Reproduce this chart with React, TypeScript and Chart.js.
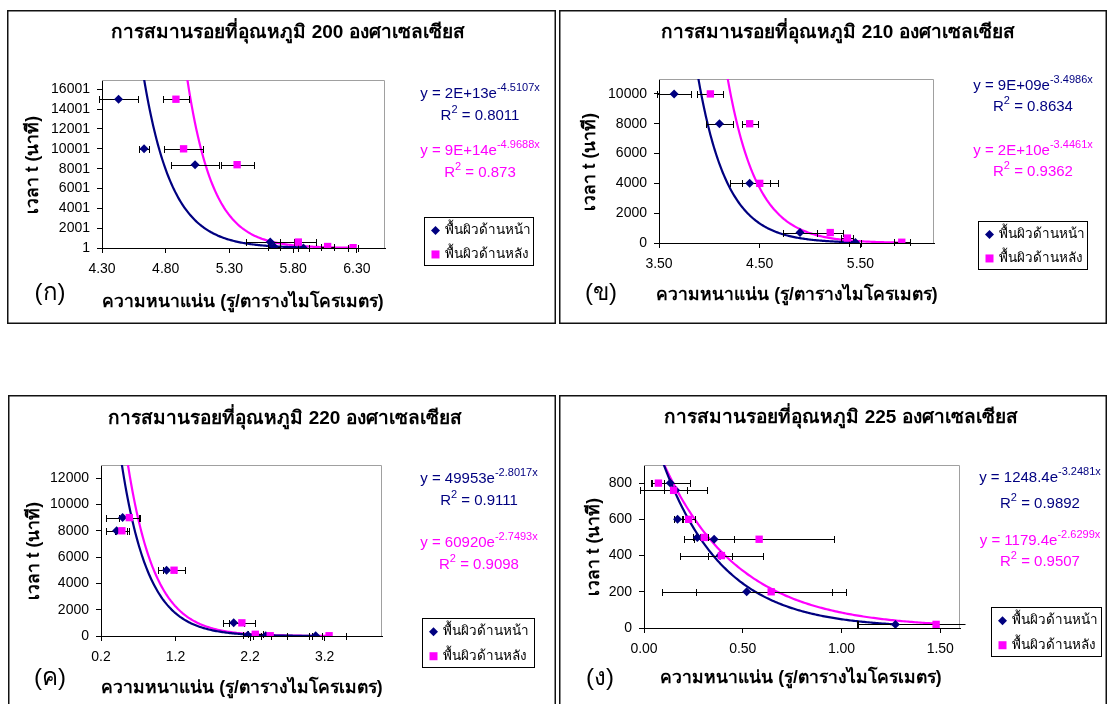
import React, { useEffect, useRef } from 'react';
import { Chart, registerables } from 'chart.js';
Chart.register(...registerables);

const FONT = '"Liberation Sans", Arial, Tahoma, sans-serif';
const NAVY = '#000080';
const PINK = '#FF00FF';

const seriesNames = ['พื้นผิวด้านหน้า', 'พื้นผิวด้านหลัง'];
const xAxisTitle = 'ความหนาแน่น (รู/ตารางไมโครเมตร)';
const yAxisTitle = 'เวลา t (นาที)';

// ---- (ก) 200 °C
const titleA = 'การสมานรอยที่อุณหภูมิ 200 องศาเซลเซียส';
const frontDensityA = [4.43, 4.63, 5.03, 5.62, 5.65, 5.88];
const frontTimeA = [15001, 10001, 8401, 601, 121, 11];
const frontErrA = [0.15, 0.04, 0.19, 0.19, 0.05, 0.04];
const backDensityA = [4.88, 4.94, 5.36, 5.84, 6.07, 6.27];
const backTimeA = [15001, 10001, 8401, 601, 151, 31];
const backErrA = [0.1, 0.15, 0.13, 0.14, 0.05, 0.04];
const xTicksA = [4.3, 4.8, 5.3, 5.8, 6.3];
const yTicksA = [1, 2001, 4001, 6001, 8001, 10001, 12001, 14001, 16001];
const fitFrontA = { a: 2e13, b: -4.5107 };
const fitBackA = { a: 9e14, b: -4.9688 };
const eqFrontA = ['y = 2E+13e', '-4.5107x', '0.8011'];
const eqBackA = ['y = 9E+14e', '-4.9688x', '0.873'];

// ---- (ข) 210 °C
const titleB = 'การสมานรอยที่อุณหภูมิ 210 องศาเซลเซียส';
const frontDensityB = [3.65, 4.1, 4.4, 4.9, 5.45];
const frontTimeB = [10000, 8000, 4000, 700, 30];
const frontErrB = [0.17, 0.13, 0.2, 0.17, 0.06];
const backDensityB = [4.01, 4.4, 4.5, 5.2, 5.37, 5.91];
const backTimeB = [10000, 8000, 4000, 700, 330, 50];
const backErrB = [0.13, 0.08, 0.18, 0.13, 0.06, 0.08];
const xTicksB = [3.5, 4.5, 5.5];
const yTicksB = [0, 2000, 4000, 6000, 8000, 10000];
const fitFrontB = { a: 9e9, b: -3.4986 };
const fitBackB = { a: 2e10, b: -3.4461 };
const eqFrontB = ['y = 9E+09e', '-3.4986x', '0.8634'];
const eqBackB = ['y = 2E+10e', '-3.4461x', '0.9362'];

// ---- (ค) 220 °C
const titleC = 'การสมานรอยที่อุณหภูมิ 220 องศาเซลเซียส';
const frontDensityC = [0.49, 0.41, 1.08, 1.98, 2.17, 2.41, 3.08];
const frontTimeC = [9000, 8000, 5000, 1000, 60, 20, 10];
const frontErrC = [0.22, 0.14, 0.12, 0.14, 0.07, 0.07, 0.09];
const backDensityC = [0.58, 0.48, 1.18, 2.09, 2.27, 2.47, 3.26];
const backTimeC = [9000, 8000, 5000, 1000, 130, 20, 20];
const backErrC = [0.14, 0.09, 0.15, 0.17, 0.1, 0.23, 0.23];
const xTicksC = [0.2, 1.2, 2.2, 3.2];
const yTicksC = [0, 2000, 4000, 6000, 8000, 10000, 12000];
const fitFrontC = { a: 49953, b: -2.8017 };
const fitBackC = { a: 60920, b: -2.7493 };
const eqFrontC = ['y = 49953e', '-2.8017x', '0.9111'];
const eqBackC = ['y = 60920e', '-2.7493x', '0.9098'];

// ---- (ง) 225 °C
const titleD = 'การสมานรอยที่อุณหภูมิ 225 องศาเซลเซียส';
const frontDensityD = [0.133, 0.16, 0.17, 0.27, 0.355, 0.385, 0.52, 1.273];
const frontTimeD = [800, 760, 600, 500, 490, 400, 200, 20];
const frontErrD = [0.1, 0.06, 0.02, 0.02, 0.1, 0.06, 0.43, 0.19];
const backDensityD = [0.073, 0.15, 0.226, 0.305, 0.583, 0.392, 0.644, 1.479];
const backTimeD = [800, 760, 600, 500, 490, 400, 200, 20];
const backErrD = [0.03, 0.17, 0.03, 0.02, 0.38, 0.21, 0.38, 0.4];
const xTicksD = [0, 0.5, 1, 1.5];
const yTicksD = [0, 200, 400, 600, 800];
const fitFrontD = { a: 1248.4, b: -3.2481 };
const fitBackD = { a: 1179.4, b: -2.6299 };
const eqFrontD = ['y = 1248.4e', '-3.2481x', '0.9892'];
const eqBackD = ['y = 1179.4e', '-2.6299x', '0.9507'];

type Fit = { a: number; b: number };
type Cfg = {
  key: string;
  box: [number, number, number, number];
  plot: [number, number, number, number];
  title: string; titlePos: [number, number];
  letter: string; letterPos: [number, number];
  xTitlePos: [number, number]; yTitlePos: [number, number];
  fx: number[]; fy: number[]; fe: number[];
  bx: number[]; by: number[]; be: number[];
  fitF: Fit; fitB: Fit;
  eqF: string[]; eqB: string[];
  eqX: number; eqYs: [number, number, number, number];
  legend: [number, number, number, number];
  xMin: number; xMax: number; yMin: number; yMax: number;
  xTicks: number[]; yTicks: number[]; dec: number;
};

const panels: Cfg[] = [
  {
    key: 'A', box: [7, 10, 549, 314], plot: [102, 80, 385, 248],
    title: titleA, titlePos: [288, 33], letter: '(ก)', letterPos: [50, 293],
    xTitlePos: [243, 302], yTitlePos: [33, 165],
    fx: frontDensityA, fy: frontTimeA, fe: frontErrA,
    bx: backDensityA, by: backTimeA, be: backErrA,
    fitF: fitFrontA, fitB: fitBackA, eqF: eqFrontA, eqB: eqBackA,
    eqX: 480, eqYs: [94, 116, 151, 173], legend: [424, 217, 109, 48],
    xMin: 4.3, xMax: 6.52, yMin: 1, yMax: 16940, xTicks: xTicksA, yTicks: yTicksA, dec: 2,
  },
  {
    key: 'B', box: [559, 10, 548, 314], plot: [659, 79, 934, 243],
    title: titleB, titlePos: [838, 33], letter: '(ข)', letterPos: [601, 293],
    xTitlePos: [797, 295], yTitlePos: [590, 162],
    fx: frontDensityB, fy: frontTimeB, fe: frontErrB,
    bx: backDensityB, by: backTimeB, be: backErrB,
    fitF: fitFrontB, fitB: fitBackB, eqF: eqFrontB, eqB: eqBackB,
    eqX: 1033, eqYs: [86, 107, 151, 172], legend: [978, 221, 109, 48],
    xMin: 3.5, xMax: 6.23, yMin: 0, yMax: 11000, xTicks: xTicksB, yTicks: yTicksB, dec: 2,
  },
  {
    key: 'C', box: [8, 395, 548, 330], plot: [101, 465, 382, 636],
    title: titleC, titlePos: [285, 419], letter: '(ค)', letterPos: [50, 678],
    xTitlePos: [242, 688], yTitlePos: [34, 551],
    fx: frontDensityC, fy: frontTimeC, fe: frontErrC,
    bx: backDensityC, by: backTimeC, be: backErrC,
    fitF: fitFrontC, fitB: fitBackC, eqF: eqFrontC, eqB: eqBackC,
    eqX: 479, eqYs: [479, 501, 543, 565], legend: [422, 618, 112, 49],
    xMin: 0.2, xMax: 3.97, yMin: 0, yMax: 13000, xTicks: xTicksC, yTicks: yTicksC, dec: 1,
  },
  {
    key: 'D', box: [559, 395, 548, 330], plot: [644, 465, 960, 628],
    title: titleD, titlePos: [841, 418], letter: '(ง)', letterPos: [600, 678],
    xTitlePos: [801, 678], yTitlePos: [594, 547],
    fx: frontDensityD, fy: frontTimeD, fe: frontErrD,
    bx: backDensityD, by: backTimeD, be: backErrD,
    fitF: fitFrontD, fitB: fitBackD, eqF: eqFrontD, eqB: eqBackD,
    eqX: 1040, eqYs: [478, 504, 541, 562], legend: [991, 607, 110, 49],
    xMin: 0, xMax: 1.6, yMin: 0, yMax: 900, xTicks: xTicksD, yTicks: yTicksD, dec: 2,
  },
];

function trend(fit: Fit, x0: number, x1: number) {
  const pts: { x: number; y: number }[] = [];
  const n = 160;
  for (let i = 0; i <= n; i++) {
    const x = x0 + ((x1 - x0) * i) / n;
    pts.push({ x, y: fit.a * Math.exp(fit.b * x) });
  }
  return pts;
}

function drawSupLine(ctx: CanvasRenderingContext2D, parts: [string, boolean][], cx: number, cy: number, color: string) {
  const big = `15px ${FONT}`;
  const small = `11px ${FONT}`;
  let total = 0;
  const widths = parts.map(([t, sup]) => {
    ctx.font = sup ? small : big;
    const w = ctx.measureText(t).width;
    total += w;
    return w;
  });
  let x = cx - total / 2;
  ctx.fillStyle = color;
  ctx.textBaseline = 'middle';
  ctx.textAlign = 'left';
  parts.forEach(([t, sup], i) => {
    ctx.font = sup ? small : big;
    ctx.fillText(t, x, sup ? cy - 6 : cy);
    x += widths[i];
  });
}

function Panel({ cfg }: { cfg: Cfg }) {
  const ref = useRef<HTMLCanvasElement | null>(null);
  useEffect(() => {
    const canvas = ref.current;
    if (!canvas) return;
    const [bxp, byp, bw, bh] = cfg.box;
    const [pl, pt, pr, pb] = cfg.plot;
    const front = cfg.fx.map((x, i) => ({ x, y: cfg.fy[i] }));
    const back = cfg.bx.map((x, i) => ({ x, y: cfg.by[i] }));
    const allMin = Math.min(...cfg.fx, ...cfg.bx);
    const frontCurve = trend(cfg.fitF, allMin, Math.max(...cfg.fx));
    const backCurve = trend(cfg.fitB, allMin, Math.max(...cfg.bx));
    const X = (v: number) => v - bxp;
    const Y = (v: number) => v - byp;

    const deco = {
      id: 'deco' + cfg.key,
      beforeDatasetsDraw(chart: any) {
        const { ctx, chartArea: a } = chart;
        ctx.save();
        ctx.strokeStyle = '#a0a0a0';
        ctx.lineWidth = 1;
        ctx.beginPath();
        const t = Math.round(a.top) + 0.5;
        const r = Math.round(a.right) - 0.5;
        ctx.moveTo(a.left, t);
        ctx.lineTo(r, t);
        ctx.lineTo(r, a.bottom);
        ctx.stroke();
        ctx.restore();
      },
      afterDatasetDraw(chart: any, args: any) {
        if (args.index !== 2) return;
        const { ctx } = chart;
        const xs = chart.scales.x;
        const ys = chart.scales.y;
        const range = xs.max - xs.min;
        const lo = xs.min - 0.02 * range;
        const hi = xs.max + 0.015 * range;
        ctx.save();
        ctx.strokeStyle = '#000';
        ctx.lineWidth = 1;
        const drawSet = (xv: number[], yv: number[], ev: number[]) => {
          xv.forEach((x, i) => {
            const e = ev[i];
            const a0 = Math.max(lo, x - e);
            const a1 = Math.min(hi, x + e);
            const p0 = Math.round(xs.getPixelForValue(a0)) + 0.5;
            const p1 = Math.round(xs.getPixelForValue(a1)) + 0.5;
            const py = Math.round(ys.getPixelForValue(yv[i])) + 0.5;
            ctx.beginPath();
            ctx.moveTo(p0, py);
            ctx.lineTo(p1, py);
            if (x - e >= lo) { ctx.moveTo(p0, py - 3.5); ctx.lineTo(p0, py + 3.5); }
            if (x + e <= hi) { ctx.moveTo(p1, py - 3.5); ctx.lineTo(p1, py + 3.5); }
            ctx.stroke();
          });
        };
        drawSet(cfg.fx, cfg.fy, cfg.fe);
        drawSet(cfg.bx, cfg.by, cfg.be);
        ctx.restore();
      },
      afterDraw(chart: any) {
        const { ctx } = chart;
        ctx.save();
        // panel border
        ctx.strokeStyle = '#111';
        ctx.lineWidth = 1.5;
        ctx.strokeRect(0.75, 0.75, bw - 1.5, bh - 1.5);
        // title
        ctx.fillStyle = '#000';
        ctx.textAlign = 'center';
        ctx.textBaseline = 'middle';
        ctx.font = `bold 19px ${FONT}`;
        ctx.fillText(cfg.title, X(cfg.titlePos[0]), Y(cfg.titlePos[1]));
        // axis titles
        ctx.font = `bold 17.5px ${FONT}`;
        ctx.fillText(xAxisTitle, X(cfg.xTitlePos[0]), Y(cfg.xTitlePos[1]));
        ctx.save();
        ctx.translate(X(cfg.yTitlePos[0]), Y(cfg.yTitlePos[1]));
        ctx.rotate(-Math.PI / 2);
        ctx.fillText(yAxisTitle, 0, 0);
        ctx.restore();
        // panel letter
        ctx.font = `24px ${FONT}`;
        ctx.fillText(cfg.letter, X(cfg.letterPos[0]), Y(cfg.letterPos[1]));
        // equations
        const ex = X(cfg.eqX);
        drawSupLine(ctx, [[cfg.eqF[0], false], [cfg.eqF[1], true]], ex, Y(cfg.eqYs[0]), NAVY);
        drawSupLine(ctx, [['R', false], ['2', true], [' = ' + cfg.eqF[2], false]], ex, Y(cfg.eqYs[1]), NAVY);
        drawSupLine(ctx, [[cfg.eqB[0], false], [cfg.eqB[1], true]], ex, Y(cfg.eqYs[2]), PINK);
        drawSupLine(ctx, [['R', false], ['2', true], [' = ' + cfg.eqB[2], false]], ex, Y(cfg.eqYs[3]), PINK);
        // legend
        const [lx, ly, lw, lh] = cfg.legend;
        const L = Math.round(X(lx)) + 0.5;
        const T = Math.round(Y(ly)) + 0.5;
        ctx.fillStyle = '#fff';
        ctx.fillRect(L, T, lw, lh);
        ctx.strokeStyle = '#000';
        ctx.lineWidth = 1;
        ctx.strokeRect(L, T, lw, lh);
        const r1 = T + lh * 0.27;
        const r2 = T + lh * 0.77;
        const mx = L + 11;
        ctx.fillStyle = NAVY;
        ctx.beginPath();
        ctx.moveTo(mx, r1 - 4.5);
        ctx.lineTo(mx + 4.5, r1);
        ctx.lineTo(mx, r1 + 4.5);
        ctx.lineTo(mx - 4.5, r1);
        ctx.closePath();
        ctx.fill();
        ctx.fillStyle = PINK;
        ctx.fillRect(mx - 4, r2 - 4, 8, 8);
        ctx.fillStyle = '#000';
        ctx.font = `13.5px ${FONT}`;
        ctx.textAlign = 'left';
        ctx.fillText(seriesNames[0], L + 20, r1);
        ctx.fillText(seriesNames[1], L + 20, r2);
        ctx.restore();
      },
    };

    const chart = new Chart(canvas, {
      type: 'scatter',
      data: {
        datasets: [
          { label: seriesNames[1], data: back, pointStyle: 'rect', pointRadius: 5.2, backgroundColor: PINK, borderColor: PINK, borderWidth: 0, showLine: false } as any,
          { label: seriesNames[0], data: front, pointStyle: 'rectRot', pointRadius: 4.5, backgroundColor: NAVY, borderColor: NAVY, borderWidth: 0, showLine: false } as any,
          { type: 'line', label: 'trendF', data: frontCurve, borderColor: NAVY, borderWidth: 2.2, pointRadius: 0, tension: 0, fill: false } as any,
          { type: 'line', label: 'trendB', data: backCurve, borderColor: PINK, borderWidth: 2.2, pointRadius: 0, tension: 0, fill: false } as any,
        ],
      },
      options: {
        animation: false,
        responsive: false,
        events: [],
        layout: { padding: { left: 0, top: pt - byp, right: bxp + bw - pr, bottom: 0 } },
        plugins: { legend: { display: false }, title: { display: false }, tooltip: { enabled: false } },
        scales: {
          x: {
            type: 'linear', min: cfg.xMin, max: cfg.xMax,
            afterBuildTicks: (s: any) => { s.ticks = cfg.xTicks.map((v) => ({ value: v })); },
            afterFit: (s: any) => { s.height = byp + bh - pb; },
            ticks: { callback: (v: any) => Number(v).toFixed(cfg.dec), font: { size: 14, family: FONT }, color: '#000', padding: 8, maxRotation: 0, autoSkip: false },
            grid: { drawOnChartArea: false, tickLength: 5, color: '#000' },
            border: { display: true, color: '#000', width: 1 },
          },
          y: {
            type: 'linear', min: cfg.yMin, max: cfg.yMax,
            afterBuildTicks: (s: any) => { s.ticks = cfg.yTicks.map((v) => ({ value: v })); },
            afterFit: (s: any) => { s.width = pl - bxp; },
            ticks: { callback: (v: any) => String(v), font: { size: 14, family: FONT }, color: '#000', padding: 7, autoSkip: false },
            grid: { drawOnChartArea: false, tickLength: 5, color: '#000' },
            border: { display: true, color: '#000', width: 1 },
          },
        },
      } as any,
      plugins: [deco],
    });
    return () => chart.destroy();
  }, [cfg]);
  return (
    <canvas
      ref={ref}
      width={cfg.box[2]}
      height={cfg.box[3]}
      style={{ position: 'absolute', left: cfg.box[0], top: cfg.box[1], width: cfg.box[2], height: cfg.box[3] }}
    />
  );
}

export default function App() {
  return (
    <div style={{ position: 'absolute', left: 0, top: 0, width: 1111, height: 704, overflow: 'hidden', background: '#fff' }}>
      {panels.map((p) => (
        <Panel key={p.key} cfg={p} />
      ))}
    </div>
  );
}
